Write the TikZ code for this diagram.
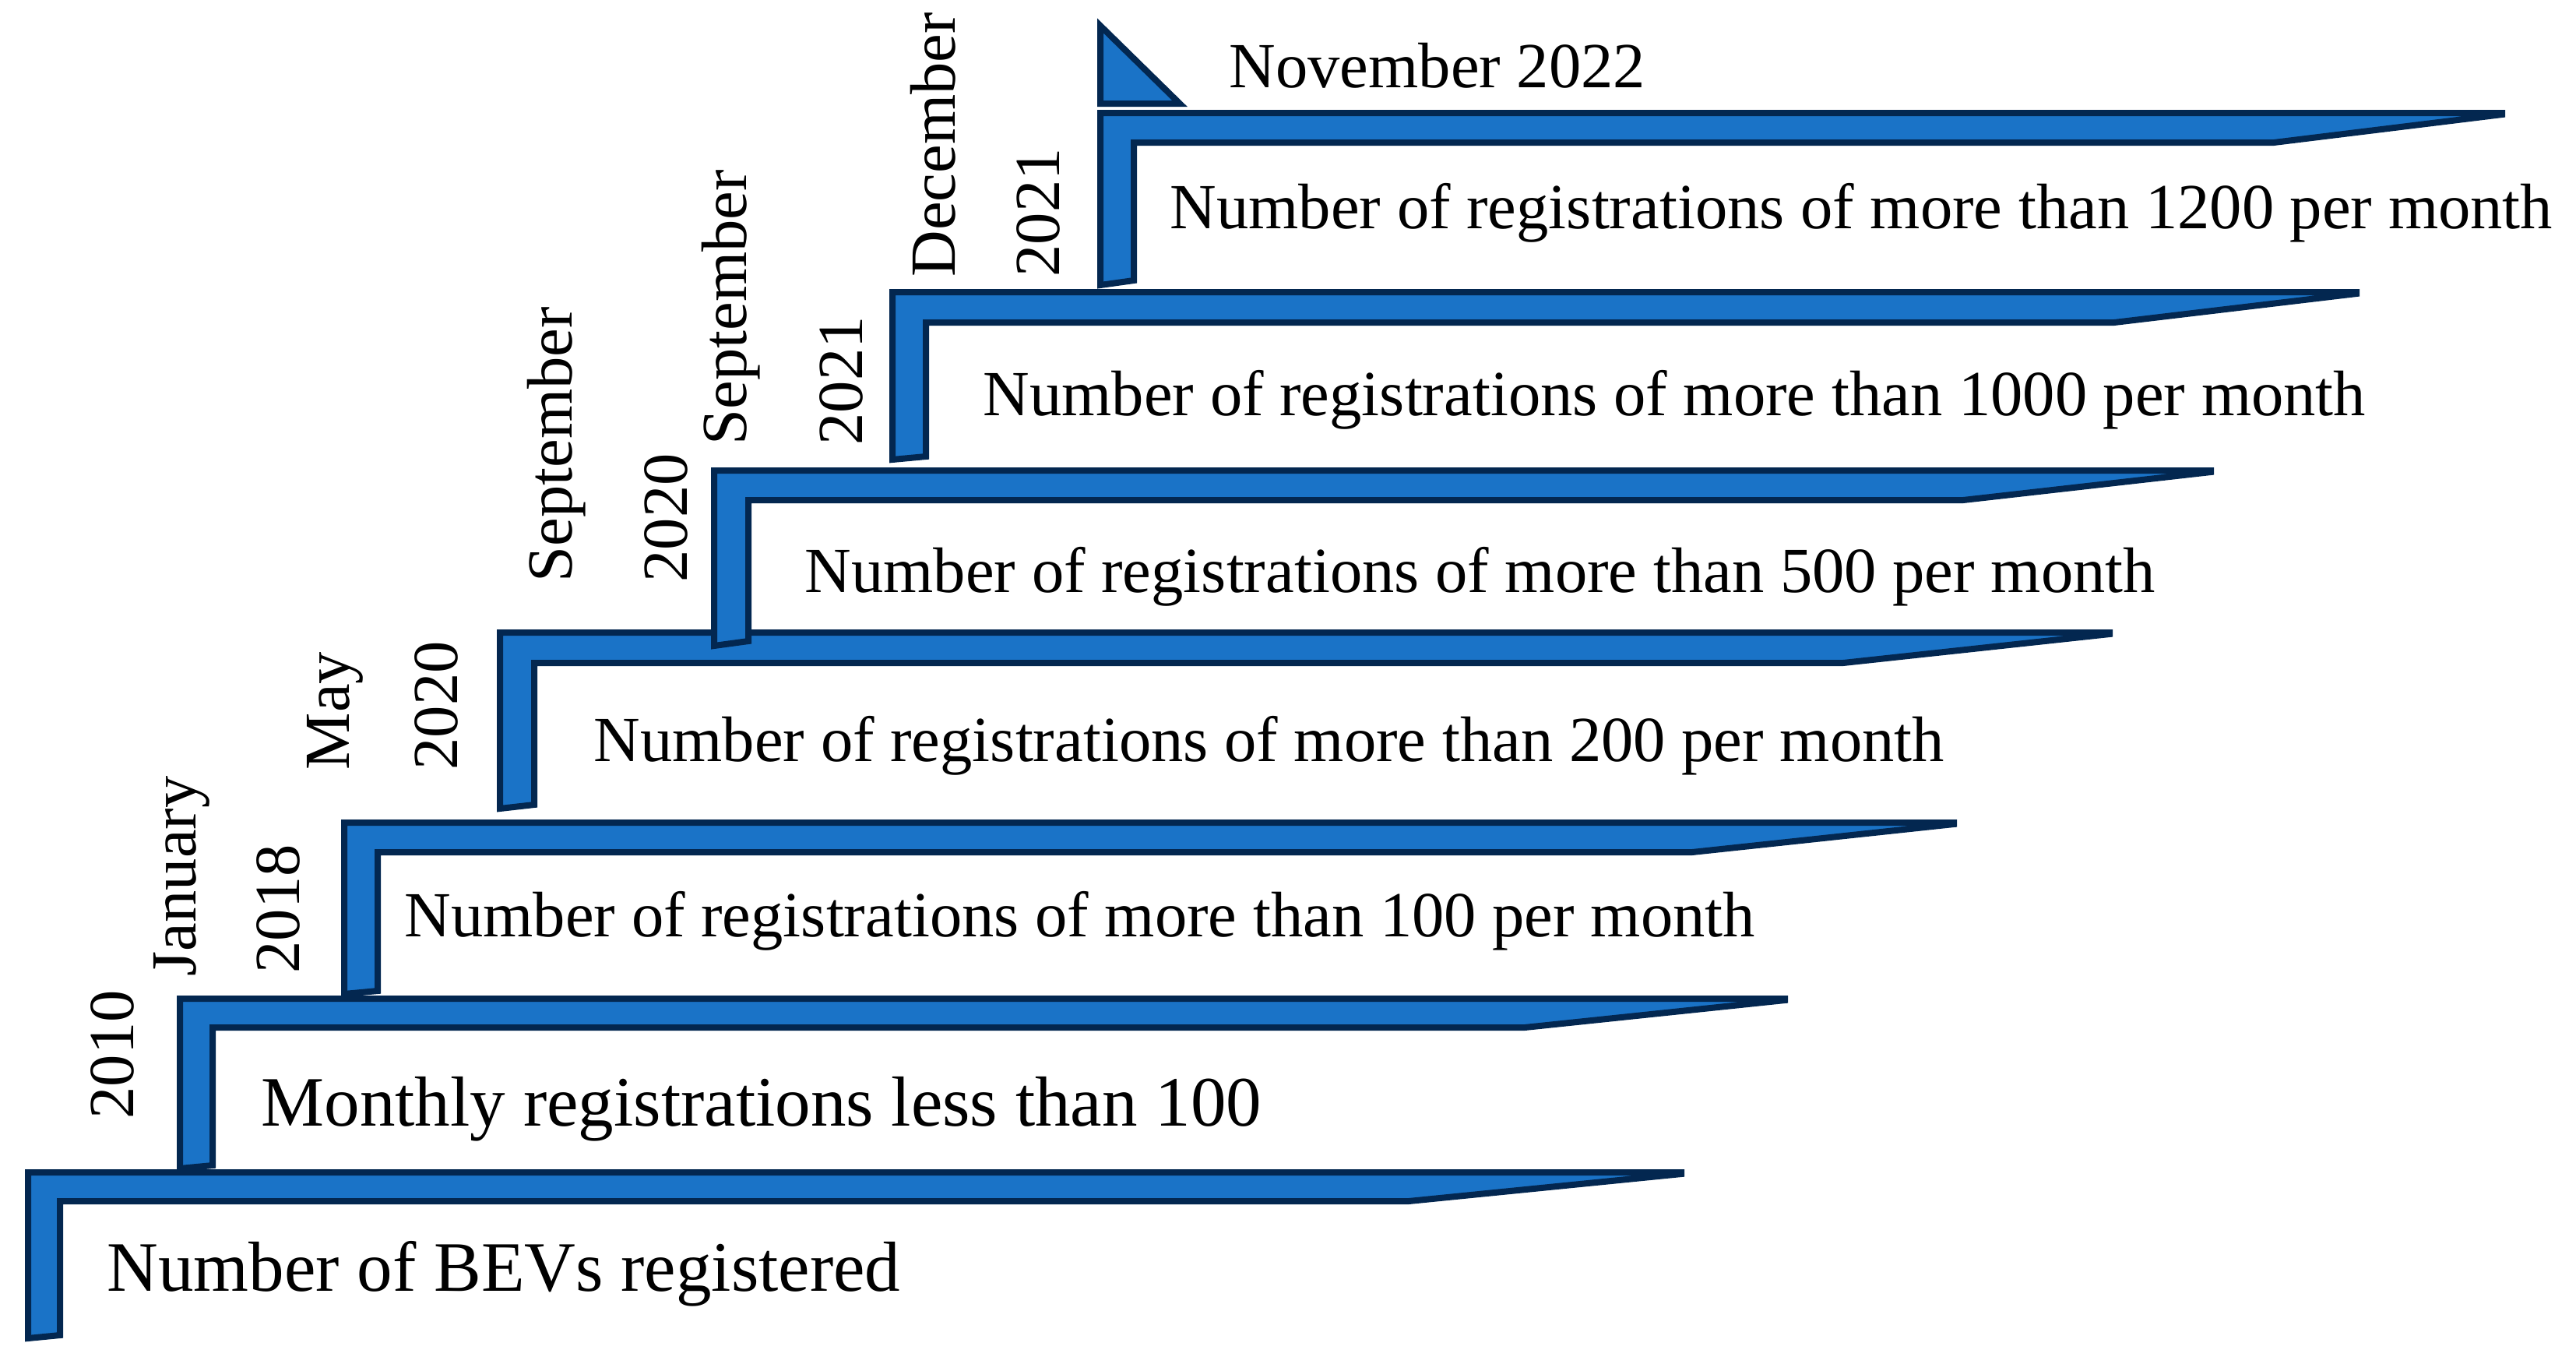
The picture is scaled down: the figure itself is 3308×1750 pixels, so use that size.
\documentclass[tikz,border=0pt]{standalone}
\usepackage{fontspec}
\setmainfont{Liberation Serif}
\definecolor{stepfill}{RGB}{26,115,199}
\definecolor{stepline}{RGB}{3,39,80}
\tikzset{
  stepshape/.style={fill=stepfill, draw=stepline, line width=0.8mm, line join=miter},
  lbl/.style={anchor=base west, inner sep=0pt, font=\fontsize{23.5}{28}\selectfont},
  biglbl/.style={lbl, font=\fontsize{25.9}{31}\selectfont},
  datelbl/.style={lbl, rotate=90},
}
% L I T B X S Vl Vr
\newcommand{\mystep}[8]{%
  \draw[stepshape] ({#1+4},{#3+4}) -- ({#5-4},{#3+4}) -- ({#5-4},{#3+6}) -- (#6,{#4-4})
    -- ({#2-4},{#4-4}) -- ({#2-4},{#8-4}) -- ({#1+4},{#7-4}) -- cycle;}
\begin{document}
\begin{tikzpicture}[x=0.1mm,y=-0.1mm]
\useasboundingbox (0,0) rectangle (3308,1750);
\mystep{32}{81}{1501}{1546}{2163}{1809}{1722}{1718}
\mystep{227}{277}{1278}{1323}{2296}{1958}{1504}{1500}
\mystep{438}{489}{1052}{1098}{2513}{2173}{1280}{1276}
\mystep{638}{690}{808}{855}{2713}{2367}{1042}{1037}
\mystep{913}{965}{600}{646}{2843}{2521}{833}{827}
\mystep{1142}{1193}{371}{418}{3030}{2715}{594}{590}
\mystep{1409}{1460}{141}{187}{3217}{2920}{370}{364}
\draw[stepshape] (1413,33) -- (1515,133) -- (1413,133) -- cycle;

\node[biglbl] (t1) at (137,1657) {Number of BEVs registered};
\node[biglbl] (t2) at (335,1445) {Monthly registrations less than 100};
\node[lbl] (t3) at (519,1202) {Number of registrations of more than 100 per month};
\node[lbl] (t4) at (762,977) {Number of registrations of more than 200 per month};
\node[lbl] (t5) at (1033,760) {Number of registrations of more than 500 per month};
\node[lbl] (t6) at (1262,533) {Number of registrations of more than 1000 per month};
\node[lbl] (t7) at (1502,293) {Number of registrations of more than 1200 per month};
\node[lbl] (nov) at (1578,112) {November 2022};

\node[datelbl] (d1) at (171,1437) {2010};
\node[datelbl] (d2m) at (251,1254) {January};
\node[datelbl] (d2y) at (384,1250) {2018};
\node[datelbl] (d3m) at (448,989) {May};
\node[datelbl] (d3y) at (587,989) {2020};
\node[datelbl] (d4m) at (734,748) {September};
\node[datelbl] (d4y) at (882,748) {2020};
\node[datelbl] (d5m) at (958,572) {September};
\node[datelbl] (d5y) at (1107,572) {2021};
\node[datelbl] (d6m) at (1226,356) {December};
\node[datelbl] (d6y) at (1360,356) {2021};
\end{tikzpicture}
\end{document}
